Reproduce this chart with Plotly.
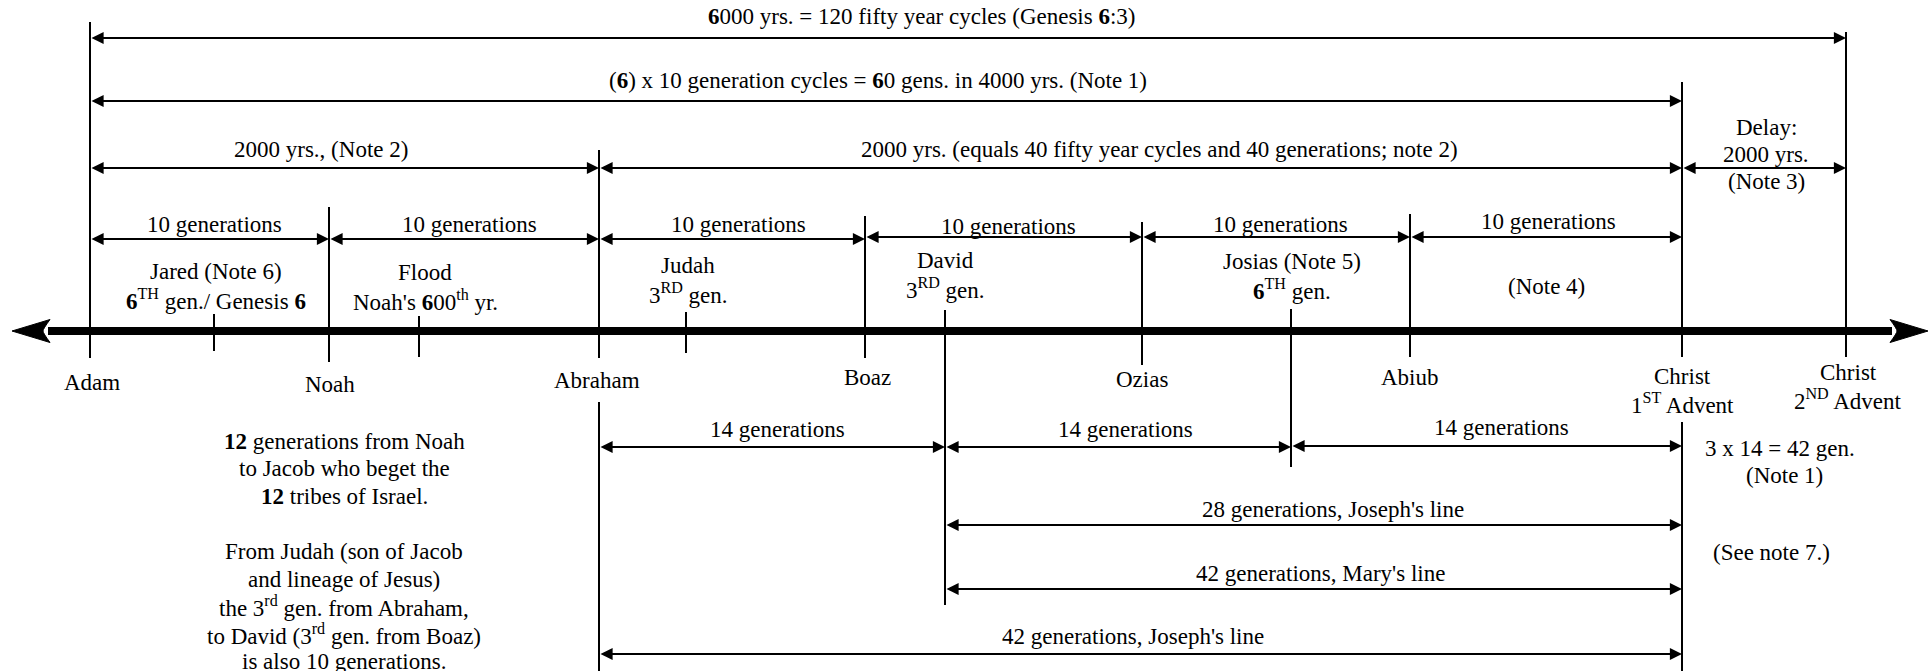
import plotly.graph_objects as go

W, H = 1932, 671
FONT = "Liberation Serif"
FS = 23

# ---------------- data ----------------
# timeline events and their schematic position along the diagram scale
event_names = ["Adam", "Jared", "Noah", "Flood", "Abraham", "Judah", "Boaz",
               "David", "Ozias", "Josias", "Abiub", "Christ1", "Christ2"]
event_pos = [90, 214, 329, 419, 599, 686, 865, 945, 1142, 1291, 1410, 1682, 1846]

# spans (start event, end event, label)
span_start = ["Adam", "Adam", "Adam", "Abraham", "Christ1",
              "Adam", "Noah", "Abraham", "Boaz", "Ozias", "Abiub",
              "Abraham", "David", "Josias",
              "David", "David", "Abraham"]
span_end = ["Christ2", "Christ1", "Abraham", "Christ1", "Christ2",
            "Noah", "Abraham", "Boaz", "Ozias", "Abiub", "Christ1",
            "David", "Josias", "Christ1",
            "Christ1", "Christ1", "Christ1"]
span_labels = [
    "<b>6</b>000 yrs. = 120 fifty year cycles (Genesis <b>6</b>:3)",
    "(<b>6</b>) x 10 generation cycles = <b>6</b>0 gens. in 4000 yrs. (Note 1)",
    "2000 yrs., (Note 2)",
    "2000 yrs. (equals 40 fifty year cycles and 40 generations; note 2)",
    "",
    "10 generations", "10 generations", "10 generations", "10 generations",
    "10 generations", "10 generations",
    "14 generations", "14 generations", "14 generations",
    "28 generations, Joseph's line",
    "42 generations, Mary's line",
    "42 generations, Joseph's line",
]

# labels under the main axis (one list of lines per label)
axis_label_events = ["Adam", "Noah", "Abraham", "Boaz", "Ozias", "Abiub", "Christ1", "Christ2"]
axis_label_lines = [["Adam"], ["Noah"], ["Abraham"], ["Boaz"], ["Ozias"], ["Abiub"],
                    ["Christ", "1<sup>ST</sup> Advent"], ["Christ", "2<sup>ND</sup> Advent"]]

# labels above the main axis
upper_label_events = ["Jared", "Flood", "Judah", "David", "Josias", "Abiub"]
upper_label_lines = [
    ["Jared (Note 6)", "<b>6</b><sup>TH</sup> gen./ Genesis <b>6</b>"],
    ["Flood", "Noah's <b>6</b>00<sup>th</sup> yr."],
    ["Judah", "3<sup>RD</sup> gen."],
    ["David", "3<sup>RD</sup> gen."],
    ["Josias (Note 5)", "<b>6</b><sup>TH</sup> gen."],
    ["(Note 4)"],
]

delay_lines = ["Delay:", "2000 yrs.", "(Note 3)"]
right_notes = ["3 x 14 = 42 gen.", "(Note 1)", "(See note 7.)"]
left_block = [
    "<b>12</b> generations from Noah",
    "to Jacob who beget the",
    "<b>12</b> tribes of Israel.",
    "",
    "From Judah (son of Jacob",
    "and lineage of Jesus)",
    "the 3<sup>rd</sup> gen. from Abraham,",
    "to David (3<sup>rd</sup> gen. from Boaz)",
    "is also 10 generations.",
]

# ---------------- layout / style ----------------
pos = dict(zip(event_names, event_pos))
AXIS_Y = 331
AXIS_L, AXIS_R = 12, 1928
HEAD_LEN, HEAD_HALF, HEAD_NOTCH = 38, 11.5, 7
LINE_STEP = 27.3

# vertical marker segments per event: list of (top, bottom)
marker_segments = {
    "Adam": [(22, 358)], "Jared": [(314, 351)], "Noah": [(207, 362)],
    "Flood": [(316, 357)], "Abraham": [(150, 358), (402, 671)],
    "Judah": [(312, 353)], "Boaz": [(216, 358)], "David": [(310, 605)],
    "Ozias": [(222, 365)], "Josias": [(309, 467)], "Abiub": [(214, 357)],
    "Christ1": [(82, 357), (422, 671)], "Christ2": [(32, 357)],
}

span_arrow_y = [38, 101, 168, 168, 168,
                239, 239, 239, 237, 237, 237,
                447, 447, 446,
                525, 589, 654]
span_text_y = [16, 80, 149, 149, None,
               224, 224, 224, 226, 224, 221,
               429, 429, 427,
               509, 573, 636]
span_text_dx = [-46, -8, -24, 19, 0,
                5, 5, 6, 5, 4, 2,
                5, 7, 15,
                19, 7, -8]

axis_label_y = [382, 384, 380, 377, 379, 377, 376, 372]
axis_label_dx = [2, 1, -2, 2, 0, 0, 0, 2]
upper_label_y = [271, 272, 265, 260, 261, 286]
upper_label_dx = [2, 6, 2, 0, 1, 136]

fig = go.Figure()
fig.add_trace(go.Scatter(x=[0, W], y=[0, H], mode="markers",
                         marker=dict(opacity=0), hoverinfo="skip", showlegend=False))

shapes = []
# main axis shaft + arrowheads
shapes.append(dict(type="line", xref="x", yref="y",
                   x0=AXIS_L + HEAD_LEN - 2, x1=AXIS_R - HEAD_LEN + 2, y0=AXIS_Y, y1=AXIS_Y,
                   line=dict(color="black", width=8)))
for tip, sgn in [(AXIS_L, 1), (AXIS_R, -1)]:
    back = tip + sgn * HEAD_LEN
    notch = back - sgn * HEAD_NOTCH
    path = (f"M {tip},{AXIS_Y} L {back},{AXIS_Y - HEAD_HALF} "
            f"Q {notch},{AXIS_Y - 2} {notch},{AXIS_Y} "
            f"Q {notch},{AXIS_Y + 2} {back},{AXIS_Y + HEAD_HALF} Z")
    shapes.append(dict(type="path", xref="x", yref="y", path=path,
                       fillcolor="black", line=dict(color="black", width=1)))

# vertical markers
for name in event_names:
    for top, bot in marker_segments[name]:
        shapes.append(dict(type="line", xref="x", yref="y",
                           x0=pos[name], x1=pos[name], y0=top, y1=bot,
                           line=dict(color="black", width=2)))

annotations = []
txt = dict(family=FONT, size=FS, color="black")


def add_text(x, y, s):
    annotations.append(dict(x=x, y=y, xref="x", yref="y", text=s, showarrow=False,
                            font=txt, xanchor="center", yanchor="middle"))


# span arrows and their labels
for s, e, lab, ay, ty, dx in zip(span_start, span_end, span_labels,
                                 span_arrow_y, span_text_y, span_text_dx):
    x0, x1 = pos[s], pos[e]
    annotations.append(dict(x=x1, y=ay, ax=x0, ay=ay, xref="x", yref="y",
                            axref="x", ayref="y", text="", showarrow=True,
                            arrowside="end+start", arrowhead=2, startarrowhead=2,
                            arrowsize=1.1, startarrowsize=1.1, arrowwidth=2.2,
                            arrowcolor="black", standoff=0, startstandoff=0))
    if lab:
        add_text((x0 + x1) / 2 + dx, ty, lab)

# delay text
for i, line in enumerate(delay_lines):
    add_text((pos["Christ1"] + pos["Christ2"]) / 2 + 2, 127 + i * LINE_STEP, line)

# labels below the axis
for ev, lines, y, dx in zip(axis_label_events, axis_label_lines, axis_label_y, axis_label_dx):
    for i, line in enumerate(lines):
        add_text(pos[ev] + dx, y + i * LINE_STEP, line)

# labels above the axis
for ev, lines, y, dx in zip(upper_label_events, upper_label_lines, upper_label_y, upper_label_dx):
    for i, line in enumerate(lines):
        add_text(pos[ev] + dx, y + i * 28, line)

# right-hand notes
for line, (x, y) in zip(right_notes, [(1780, 448), (1784, 475), (1771, 552)]):
    add_text(x, y, line)

# left text block
for i, line in enumerate(left_block):
    if line:
        add_text(344, 441 + i * 27.6, line)

fig.update_layout(
    width=W, height=H, margin=dict(l=0, r=0, t=0, b=0),
    paper_bgcolor="white", plot_bgcolor="white",
    xaxis=dict(range=[0, W], visible=False, fixedrange=True),
    yaxis=dict(range=[H, 0], visible=False, fixedrange=True),
    shapes=shapes, annotations=annotations, showlegend=False,
)

fig.write_html("out.html", config={"displayModeBar": False},
               post_script="document.body.style.margin='0';document.body.style.overflow='hidden';")
